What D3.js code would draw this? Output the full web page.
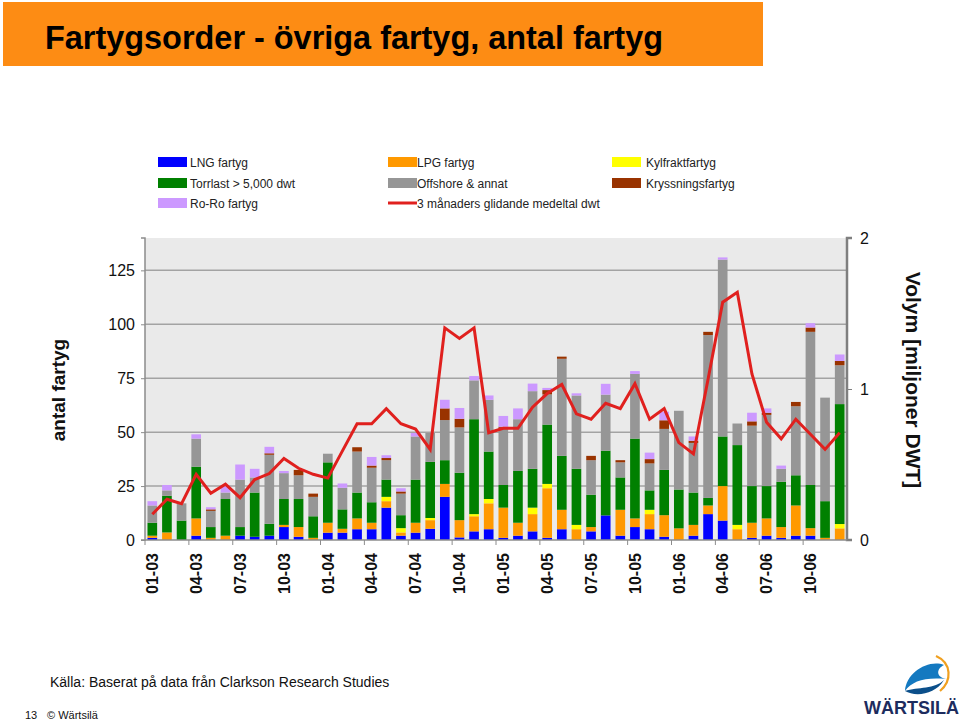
<!DOCTYPE html>
<html><head><meta charset="utf-8">
<script src="https://cdn.jsdelivr.net/npm/d3@7"></script>
<style>
html,body{margin:0;padding:0;background:#fff;}
svg{display:block;font-family:"Liberation Sans",Arial,sans-serif;}
</style></head>
<body>
<svg id="c" width="960" height="723"></svg>
<script>
// ---- data ----
const months = [];
for (const yr of ["03","04","05","06"]) for (let m = 1; m <= 12; m++) months.push(String(m).padStart(2,"0") + "-" + yr);
const tickLabels = ["01-03","04-03","07-03","10-03","01-04","04-04","07-04","10-04","01-05","04-05","07-05","10-05","01-06","04-06","07-06","10-06"];
const seriesNames = ["LNG fartyg","LPG fartyg","Kylfraktfartyg","Torrlast > 5,000 dwt","Offshore & annat","Kryssningsfartyg","Ro-Ro fartyg"];
const lineName = "3 månaders glidande medeltal dwt";
const lng  = [1,0,0,2,0,0,2,1.5,2,6, 1.5,0,3.4,3.4,5,5,15,2,3.4,5.2, 20,1.2,4,5,1,2,4,1,5,0, 4,11.4,2,6,5,1.5,0,2,12,9, 0,1,2,1,2,2,0,0];
const lpg  = [1,3.5,0,8,1,2,0,0,0,1, 4.5,1,4.6,1.8,5,3,3,1.5,4.6,4, 6,8,7,12,14,6,8,23,9,5, 2,0,12,4,7,10,5.4,5,4,16, 5,7,8,5,14,3.5,1,5.4];
const kyl  = [0,0,0,0,0,0,0,0,0,0, 0,0,0,0,0,0,2,2,0,1, 0,0,1,2,0,0,3,2,0,2, 0,0,0,0,2,0,0,0,0,0, 2,0,0,0,0,0,0,2];
const torr = [6,17,9,24,5,17,4,20.5,5.5,12, 13,10,28,9,12,9.5,8,6,20,26, 11,22,44,22,10.5,24,18,27.5,25,26, 15,30,15,37,9,21,18,15,3.5,23, 37,17,15,21,14,20,17,55.6];
const offs = [8,2.5,8,13,7.5,3,22,7,32,12, 11,9,4,10,19,16,9,10,20,13.4, 18.6,21,18,24,26.5,24,36,14,45,34, 16,26,7,30,12.5,19,36.5,23,75.5,82, 10,28,33,6,32,71,48,18];
const krys = [0,0,0,0,0.7,0,0,0,0.7,0, 2.5,1.5,0,0,2,1,1,1,0,0, 5.4,4,0,0,0.5,0,0,2,1,0, 2,0,1,0,2,4,0,1,1.5,0, 0,2,1,0,2,2,0,2];
const roro = [2,2.5,0,2,1,3,7,4,3,1, 0,0,0,2,0,4,1.3,1.5,1.6,0, 4,5,2,2,5,5,3.5,1,0,1, 0,5,0,1.3,3,4,0,2,0,1, 0,4,2,1.5,0,2,0,3];
const dwt  = [0.17,0.27,0.24,0.435,0.31,0.37,0.28,0.40,0.44,0.54, 0.475,0.435,0.41,0.59,0.77,0.77,0.87,0.77,0.735,0.60, 1.405,1.335,1.405,0.71,0.74,0.74,0.88,0.97,1.03,0.835, 0.80,0.905,0.87,1.035,0.80,0.87,0.645,0.57,1.065,1.575, 1.64,1.10,0.78,0.67,0.80,0.70,0.60,0.71];
const leftTicks = [0,25,50,75,100,125];
const rightTicks = [0,1,2];
const colors = ["#0000FF","#FF9900","#FFFF00","#008000","#969696","#993300","#CC99FF"];

// ---- build ----
const svg = d3.select("#c");
const keys = ["lng","lpg","kyl","torr","offs","krys","roro"];
const arrs = [lng,lpg,kyl,torr,offs,krys,roro];
const rows = months.map((m,i) => { const o = {month:m}; keys.forEach((k,j) => o[k] = arrs[j][i]); return o; });
const stacked = d3.stack().keys(keys)(rows);

const L = 145, R = 847, T = 238, B = 540;
const x = d3.scaleBand().domain(months).range([L,R]).paddingInner(0.34).paddingOuter(0.17);
const y = d3.scaleLinear().domain([0,140]).range([B,T]);
const y2 = d3.scaleLinear().domain([0,2]).range([B,T]);

// title banner
svg.append("rect").attr("x",3).attr("y",2).attr("width",760).attr("height",64).attr("fill","#FD8C14");
svg.append("text").attr("x",45).attr("y",49).attr("font-size",33).attr("font-weight","bold")
  .attr("textLength",618).attr("lengthAdjust","spacingAndGlyphs").attr("fill","#000")
  .text("Fartygsorder - övriga fartyg, antal fartyg");

// legend
const legItems = seriesNames.map((n,i)=>({name:n,color:colors[i],type:"rect"}));
legItems.push({name:lineName,color:"#E0201E",type:"line"});
const colX = [158,388,612], rowY = [162,183,203];
legItems.forEach((d,i)=>{
  const c = i%3, r = Math.floor(i/3);
  const g = svg.append("g").attr("transform",`translate(${colX[c]},${rowY[r]})`);
  if (d.type==="rect") g.append("rect").attr("x",0).attr("y",-5).attr("width",29).attr("height",10).attr("fill",d.color);
  else g.append("line").attr("x1",0).attr("x2",29).attr("y1",0).attr("y2",0).attr("stroke",d.color).attr("stroke-width",3);
  g.append("text").attr("x",c===2?34:(c===1?29:32)).attr("y",4.5).attr("font-size",12).attr("fill","#222").text(d.name);
});

// plot background
svg.append("rect").attr("x",L).attr("y",T).attr("width",R-L).attr("height",B-T).attr("fill","#EAEAEA");

// gridlines
svg.append("g").selectAll("line").data(leftTicks.filter(t=>t>0)).join("line")
  .attr("x1",L).attr("x2",R).attr("y1",d=>y(d)).attr("y2",d=>y(d))
  .attr("stroke","#A3A3A3").attr("stroke-width",1.5);

// bars
svg.append("g").selectAll("g").data(stacked).join("g").attr("fill",(d,i)=>colors[i])
  .selectAll("rect").data(d=>d).join("rect")
  .attr("x",d=>x(d.data.month)).attr("width",x.bandwidth())
  .attr("y",d=>y(d[1])).attr("height",d=>Math.max(0,y(d[0])-y(d[1])));

// line
const step = x.step();
const lineGen = d3.line().x((d,i)=>x(months[i])+x.bandwidth()/2).y(d=>y2(d));
svg.append("path").datum(dwt).attr("d",lineGen).attr("fill","none")
  .attr("stroke","#E0201E").attr("stroke-width",3).attr("stroke-linejoin","miter");

// axes
const leftAxis = d3.axisLeft(y).tickValues(leftTicks).tickSize(4).tickPadding(6);
const gl = svg.append("g").attr("transform",`translate(${L},0)`).call(leftAxis);
gl.select(".domain").attr("stroke","#8c8c8c").attr("stroke-width",1.5).attr("d",`M-4,${T}H0V${B}H-4`);
gl.selectAll(".tick line").attr("stroke","#8c8c8c");
gl.selectAll("text").attr("font-size",16).attr("fill","#111").attr("font-family","Liberation Sans, Arial, sans-serif");

const rightAxis = d3.axisRight(y2).tickValues(rightTicks).tickSize(5).tickPadding(8).tickFormat(d3.format("d"));
const gr = svg.append("g").attr("transform",`translate(${R},0)`).call(rightAxis);
gr.select(".domain").attr("stroke","#7f7f7f").attr("stroke-width",2.5).attr("d",`M5,${T}H0V${B}H5`);
gr.selectAll(".tick line").attr("stroke","#7f7f7f");
gr.selectAll("text").attr("font-size",16).attr("fill","#111").attr("font-family","Liberation Sans, Arial, sans-serif");

// bottom axis
const gb = svg.append("g").attr("transform",`translate(0,${B})`);
gb.append("line").attr("x1",L).attr("x2",R).attr("y1",0).attr("y2",0).attr("stroke","#8c8c8c").attr("stroke-width",1.5);
gb.selectAll("line.tk").data(tickLabels).join("line").attr("class","tk")
  .attr("x1",d=>x(d)-(step-x.bandwidth())/2).attr("x2",d=>x(d)-(step-x.bandwidth())/2)
  .attr("y1",0).attr("y2",5).attr("stroke","#8c8c8c");
gb.selectAll("text").data(tickLabels).join("text")
  .attr("transform",d=>`translate(${x(d)+x.bandwidth()/2},13) rotate(-90)`)
  .attr("text-anchor","end").attr("dy","0.36em").attr("font-size",16).attr("font-weight","bold").attr("fill","#111")
  .text(d=>d);

// axis titles
svg.append("text").attr("transform","translate(58,390) rotate(-90)").attr("text-anchor","middle").attr("dy","0.35em")
  .attr("font-size",19).attr("font-weight","bold").attr("fill","#111").text("antal fartyg");
svg.append("text").attr("transform","translate(913,380) rotate(90)").attr("text-anchor","middle").attr("dy","0.35em")
  .attr("font-size",21).attr("font-weight","bold").attr("fill","#111").text("Volym [miljoner DWT]");

// footer
svg.append("text").attr("x",50).attr("y",687).attr("font-size",14).attr("fill","#111").text("Källa: Baserat på data från Clarkson Research Studies");
svg.append("text").attr("x",25).attr("y",719).attr("font-size",11).attr("fill","#111").text("13");
svg.append("text").attr("x",47).attr("y",719).attr("font-size",11).attr("fill","#111").text("© Wärtsilä");

// logo
const lg = svg.append("g").attr("transform","translate(0,-3)");
lg.append("path").attr("d","M936,659 C952,666 952,684 940,694").attr("fill","none").attr("stroke","#F0A020").attr("stroke-width",2.2);
lg.append("path").attr("d","M944,668 C928,662 906,676 905,694 C912,684 925,680 946,682 C936,680 936,672 944,668 Z").attr("fill","#1479C0");
lg.append("path").attr("d","M905,694 C918,690 935,692 944,683 C935,698 915,700 905,694 Z").attr("fill","#0B4F8A");
svg.append("text").attr("x",864).attr("y",714).attr("font-size",18).attr("font-weight","bold")
  .attr("fill","#1D2C5E").text("WÄRTSILÄ");
</script>
</body></html>
